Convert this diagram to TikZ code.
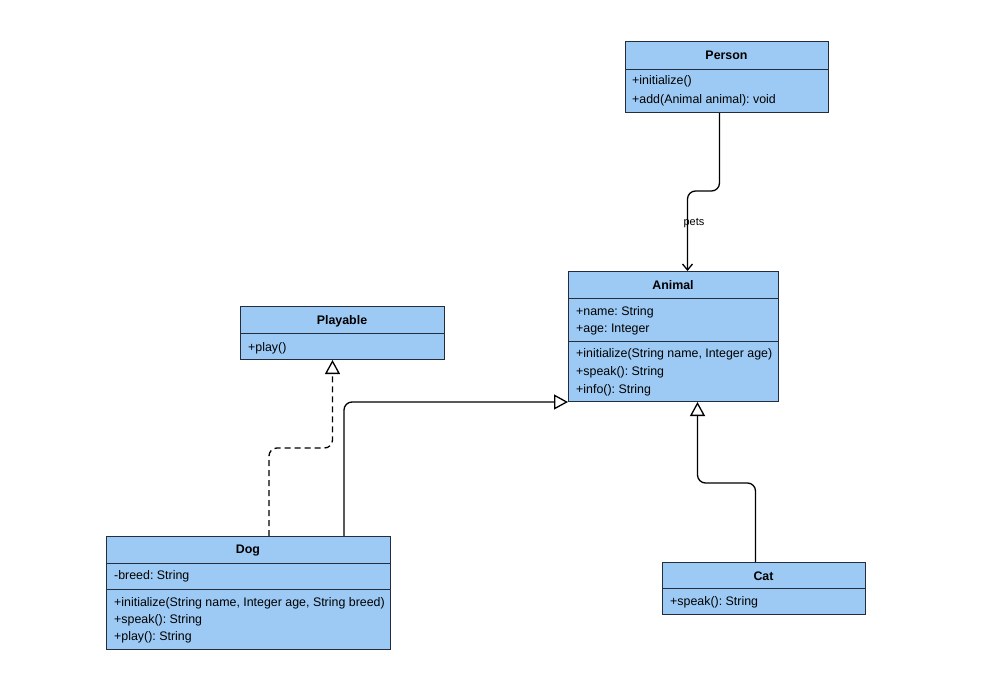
\documentclass[tikz,border=0pt]{standalone}
\usepackage{fontspec}
\setmainfont{Liberation Sans}
\usetikzlibrary{arrows.meta}
\definecolor{classfill}{RGB}{157,202,244}
\definecolor{classline}{RGB}{35,45,60}
\begin{document}
\frenchspacing
\begin{tikzpicture}[x=1pt,y=-1pt,
  cls/.style={draw=classline,fill=classfill,line width=1pt,rectangle,inner sep=0pt,anchor=north west},
  ttl/.style={font=\fontsize{12.4}{14}\selectfont\bfseries,inner sep=0pt,anchor=base},
  mem/.style={font=\fontsize{12.4}{14}\selectfont,anchor=base west,inner sep=0pt},
  sep/.style={draw=classline,line width=1pt},
  conn/.style={line width=1.3pt,rounded corners=8},
  inh/.style={conn,-{Triangle[open,length=14,width=15]}},
  real/.style={conn,dash pattern=on 6pt off 4pt,-{Triangle[open,length=14,width=15]}},
  assoc/.style={conn,-{Straight Barb[length=6,width=10]}}
]
\useasboundingbox (0,0) rectangle (992,677);
% Person
\node[cls,minimum width=203,minimum height=71] (person) at (625,41) {};
\draw[sep] ([yshift=-28]person.north west) -- ([yshift=-28]person.north east);
\node[ttl] (personT) at (726.5,59.5) {Person};
\node[mem] (personM1) at (632,84.5) {+initialize()};
\node[mem] (personM2) at (632,103.5) {+add(Animal animal): void};
% Animal
\node[cls,minimum width=210,minimum height=130] (animal) at (568,271) {};
\draw[sep] ([yshift=-27]animal.north west) -- ([yshift=-27]animal.north east);
\draw[sep] ([yshift=-70]animal.north west) -- ([yshift=-70]animal.north east);
\node[ttl] (animalT) at (673,289.5) {Animal};
\node[mem] (animalA1) at (576,315.5) {+name: String};
\node[mem] (animalA2) at (576,332.5) {+age: Integer};
\node[mem] (animalM1) at (576,357.5) {+initialize(String name, Integer age)};
\node[mem] (animalM2) at (576,375.5) {+speak(): String};
\node[mem] (animalM3) at (576,393.5) {+info(): String};
% Playable
\node[cls,minimum width=204,minimum height=53] (playable) at (240,306) {};
\draw[sep] ([yshift=-27]playable.north west) -- ([yshift=-27]playable.north east);
\node[ttl] (playableT) at (342,324.5) {Playable};
\node[mem] (playableM1) at (248,351.5) {+play()};
% Dog
\node[cls,minimum width=284,minimum height=113] (dog) at (106,536) {};
\draw[sep] ([yshift=-27]dog.north west) -- ([yshift=-27]dog.north east);
\draw[sep] ([yshift=-53]dog.north west) -- ([yshift=-53]dog.north east);
\node[ttl] (dogT) at (248,553.5) {Dog};
\node[mem] (dogA1) at (114,579.5) {-breed: String};
\node[mem] (dogM1) at (114,606.5) {+initialize(String name, Integer age, String breed)};
\node[mem] (dogM2) at (114,623.5) {+speak(): String};
\node[mem] (dogM3) at (114,640.5) {+play(): String};
% Cat
\node[cls,minimum width=203,minimum height=52] (cat) at (662,562) {};
\draw[sep] ([yshift=-26]cat.north west) -- ([yshift=-26]cat.north east);
\node[ttl] (catT) at (763.5,580.5) {Cat};
\node[mem] (catM1) at (670,605.5) {+speak(): String};
% Connectors
\draw[assoc] ([xshift=-7.5]person.south) -- ++(0,78) -| ([xshift=14]animal.north);
\node[font=\fontsize{11}{13}\selectfont,inner sep=0pt,anchor=base] (pets) at (694,225) {pets};
\draw[inh] ([xshift=238]dog.north west) |- (animal.south west);
\draw[real] ([xshift=163]dog.north west) -- ++(0,-88) -| ([xshift=-10]playable.south);
\draw[inh] ([xshift=-8.5]cat.north) -- ++(0,-79) -| ([xshift=24]animal.south);
\end{tikzpicture}
\end{document}
